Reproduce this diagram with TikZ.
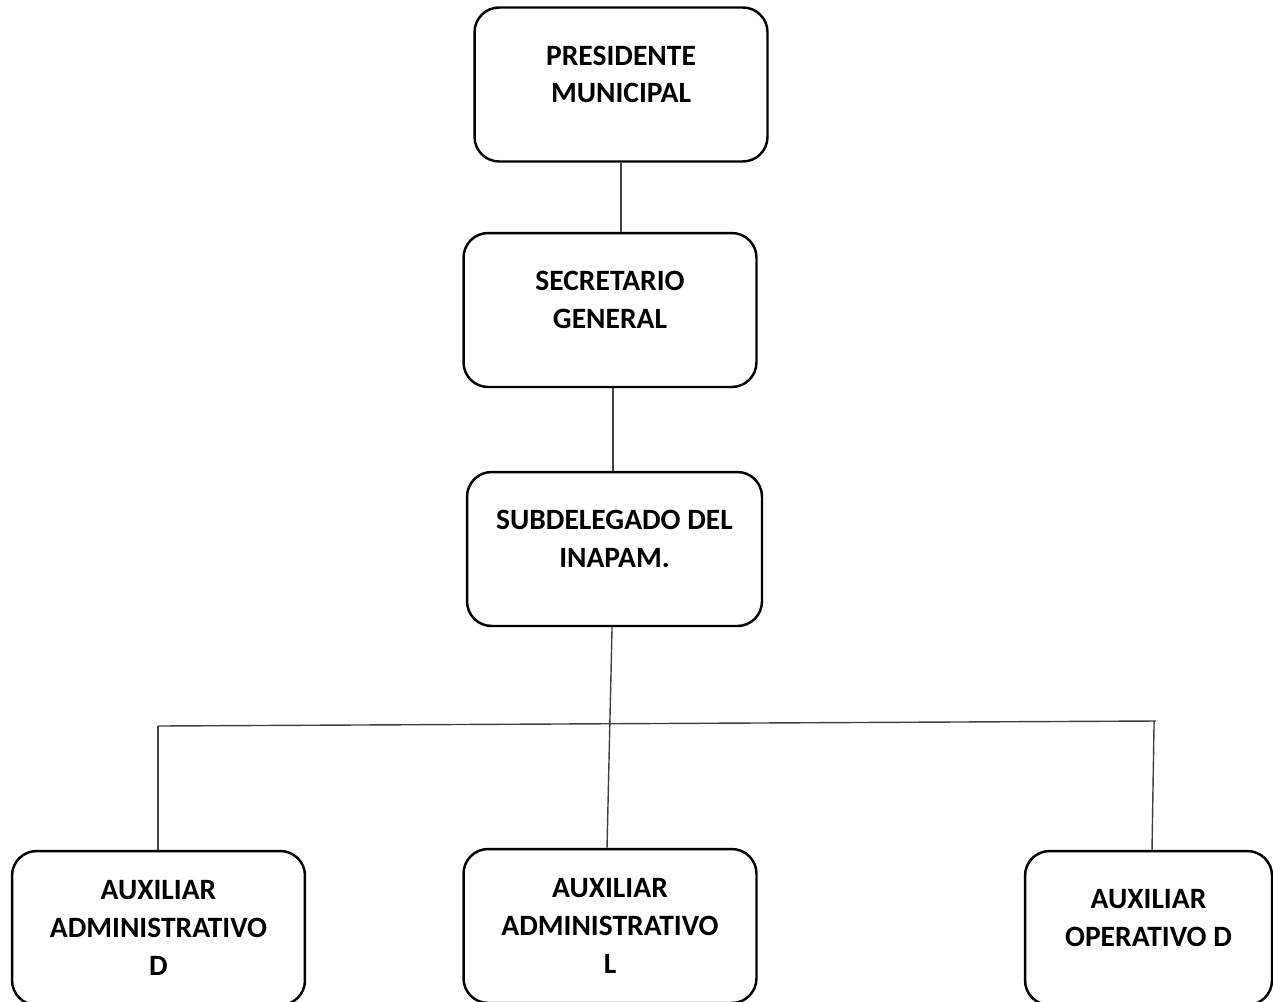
\documentclass[tikz,border=0pt]{standalone}
\usepackage{fontspec}
\setmainfont{Carlito}

\begin{document}
\begin{tikzpicture}[x=0.02cm,y=-0.02cm,
	caja/.style={draw,line width=1.4pt,rounded corners=14pt,minimum width=5.86cm,minimum height=3.08cm,inner sep=0pt,align=center,font=\fontsize{16.8}{21.4}\selectfont\bfseries},
	linea/.style={draw=black!75,line width=0.8pt}]
		\useasboundingbox (0,0) rectangle (1273,1001);
		\clip (0,0) rectangle (1273,1001);
		\node[caja] (pres) at (621,84.5) {PRESIDENTE\\MUNICIPAL\\[-9.6pt]\mbox{}};
		\node[caja] (sec) at (610,310) {SECRETARIO\\GENERAL\\[-9.6pt]\mbox{}};
		\node[caja,minimum width=5.9cm] (sub) at (614.5,549) {SUBDELEGADO DEL\\INAPAM.\\[-9.6pt]\mbox{}};
		\node[caja] (aux1) at (158.5,928) {AUXILIAR\\ADMINISTRATIVO\\D};
		\node[caja] (aux2) at (610,926) {AUXILIAR\\ADMINISTRATIVO\\L};
		\node[caja,minimum width=4.94cm] (aux3) at (1148.5,928) {AUXILIAR\\OPERATIVO D\\[-9.6pt]\mbox{}};
		\coordinate (busL) at (158,726);
		\coordinate (busR) at (1156,721);
		\draw[linea] (pres.south) -- (pres.south |- sec.north);
		\draw[linea] ([xshift=1.7pt]sec.south) -- ([xshift=1.7pt]sec.south |- sub.north);
		\draw[linea] ([xshift=-1.4pt]sub.south) -- ([xshift=-1.7pt]aux2.north);
		\draw[linea] (busL) -- (busR);
		\draw[linea] (busL) -- (busL |- aux1.north);
		\draw[linea] ([xshift=-1.1pt]busR) -- ([xshift=2pt]aux3.north);
	\end{tikzpicture}
\end{document}
